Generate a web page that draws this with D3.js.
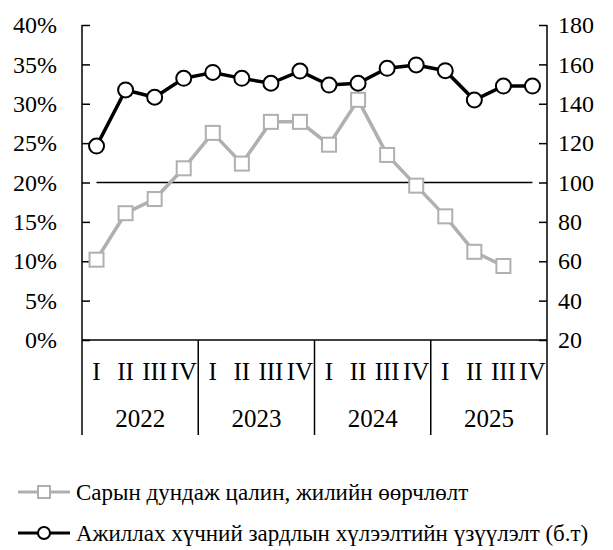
<!DOCTYPE html>
<html><head><meta charset="utf-8">
<script src="https://cdn.jsdelivr.net/npm/d3@7"></script>
<style>body{margin:0;background:#fff}svg{display:block}text{font-family:"Liberation Serif","Times New Roman",serif;fill:#000}</style>
</head><body>
<script>
const years = ["2022","2023","2024","2025"];
const quarters = ["I","II","III","IV"];
const wageGrowth = [10.2,16.1,17.9,21.8,26.3,22.4,27.7,27.7,24.8,30.5,23.5,19.6,15.7,11.2,9.4,null];
const laborIndex = [118.5,147,143.3,152.9,155.9,152.9,150.4,156.6,149.5,150.4,158.0,159.7,156.8,141.9,149.0,149.0];
const baseline = 100;
const leftTicks = [0,5,10,15,20,25,30,35,40];
const rightTicks = [20,40,60,80,100,120,140,160,180];
const legendLabels = ["Сарын дундаж цалин, жилийн өөрчлөлт","Ажиллах хүчний зардлын хүлээлтийн үзүүлэлт (б.т)"];

const W=613,H=550;
const L=82,R=547,T=25,B=340;
const svg=d3.select("body").append("svg").attr("width",W).attr("height",H);
const cats=[];years.forEach(y=>quarters.forEach(q=>cats.push(y+"-"+q)));
const x=d3.scaleBand().domain(cats).range([L,R]);
const yL=d3.scaleLinear().domain([0,40]).range([B,T]);
const yR=d3.scaleLinear().domain([20,180]).range([B,T]);
const cx=i=>x(cats[i])+x.bandwidth()/2;

// left axis
const gl=svg.append("g").attr("transform",`translate(${L},0)`)
 .call(d3.axisLeft(yL).tickValues(leftTicks).tickFormat(d=>d+"%").tickSizeInner(-8).tickSizeOuter(-8).tickPadding(25));
gl.select(".domain").remove();
gl.selectAll("line").attr("stroke","#000").attr("stroke-width",1.5);
gl.selectAll("text").attr("font-size",24).attr("font-family","Liberation Serif");
svg.append("line").attr("x1",L).attr("x2",L).attr("y1",T).attr("y2",435).attr("stroke","#000").attr("stroke-width",1.5);

// right axis
const gr=svg.append("g").attr("transform",`translate(${R},0)`)
 .call(d3.axisRight(yR).tickValues(rightTicks).tickSizeInner(-8).tickSizeOuter(-8).tickPadding(11));
gr.select(".domain").remove();
gr.selectAll("line").attr("stroke","#000").attr("stroke-width",1.5);
gr.selectAll("text").attr("font-size",24).attr("font-family","Liberation Serif");
svg.append("line").attr("x1",R).attr("x2",R).attr("y1",T).attr("y2",435).attr("stroke","#000").attr("stroke-width",1.5);

// bottom axis
svg.append("line").attr("x1",L).attr("x2",R).attr("y1",B).attr("y2",B).attr("stroke","#000").attr("stroke-width",1.5);
years.forEach((yv,yi)=>{
  const x0=x(yv+"-I"), x1=x(yv+"-IV")+x.bandwidth();
  if(yi>0) svg.append("line").attr("x1",x0).attr("x2",x0).attr("y1",B).attr("y2",435).attr("stroke","#000").attr("stroke-width",1.5);
  svg.append("text").attr("x",(x0+x1)/2).attr("y",427).attr("text-anchor","middle").attr("font-size",25).text(yv);
  quarters.forEach(q=>{
    svg.append("text").attr("x",x(yv+"-"+q)+x.bandwidth()/2).attr("y",380).attr("text-anchor","middle").attr("font-size",25).text(q);
  });
});

// baseline
svg.append("line").attr("x1",cx(0)).attr("x2",cx(15)).attr("y1",yR(baseline)).attr("y2",yR(baseline)).attr("stroke","#000").attr("stroke-width",1.5);

const gray="#b0b0b0";
// gray series
const gd=wageGrowth.map((v,i)=>({i,v})).filter(d=>d.v!=null);
svg.append("path").datum(gd).attr("fill","none").attr("stroke",gray).attr("stroke-width",3.5)
 .attr("d",d3.line().x(d=>cx(d.i)).y(d=>yL(d.v)));
const s=14;
svg.selectAll(".sq").data(gd).enter().append("rect")
 .attr("x",d=>cx(d.i)-s/2).attr("y",d=>yL(d.v)-s/2).attr("width",s).attr("height",s)
 .attr("fill","#fff").attr("stroke",gray).attr("stroke-width",2);

// black series
const bd=laborIndex.map((v,i)=>({i,v}));
svg.append("path").datum(bd).attr("fill","none").attr("stroke","#000").attr("stroke-width",3.5)
 .attr("d",d3.line().x(d=>cx(d.i)).y(d=>yR(d.v)));
svg.selectAll(".ci").data(bd).enter().append("circle")
 .attr("cx",d=>cx(d.i)).attr("cy",d=>yR(d.v)).attr("r",7.5)
 .attr("fill","#fff").attr("stroke","#000").attr("stroke-width",2);

// legend
const lg=svg.append("g");
lg.append("line").attr("x1",18).attr("x2",70).attr("y1",492).attr("y2",492).attr("stroke",gray).attr("stroke-width",3);
lg.append("rect").attr("x",38).attr("y",486).attr("width",12).attr("height",12).attr("fill","#fff").attr("stroke",gray).attr("stroke-width",2);
lg.append("text").attr("x",76).attr("y",500).attr("font-size",23).text(legendLabels[0]);
lg.append("line").attr("x1",18).attr("x2",70).attr("y1",533).attr("y2",533).attr("stroke","#000").attr("stroke-width",3);
lg.append("circle").attr("cx",44).attr("cy",533).attr("r",6).attr("fill","#fff").attr("stroke","#000").attr("stroke-width",2);
lg.append("text").attr("x",76).attr("y",541).attr("font-size",23).text(legendLabels[1]);
</script>
</body></html>
